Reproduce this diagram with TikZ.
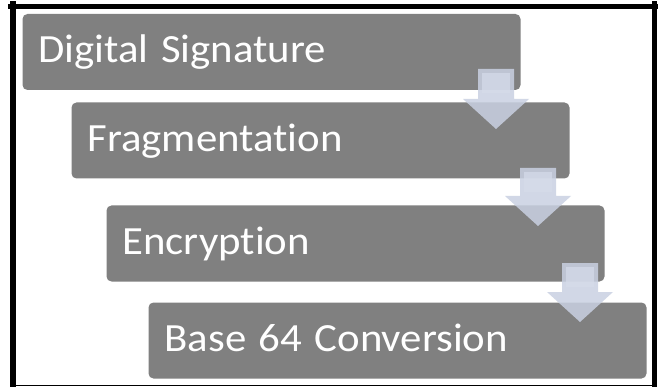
\documentclass[tikz,border=0pt]{standalone}
\usepackage{fontspec}
\setmainfont{Carlito}[FakeStretch=1.07, Ligatures=NoCommon]
\newcommand\tightspaces{\spaceskip=12.5pt\relax}
\begin{document}
\begin{tikzpicture}[x=1pt,y=-1pt,
  stepbox/.style={rectangle, rounded corners=5pt, fill=boxgray, draw=none,
    minimum width=498pt, minimum height=76pt, text width=466pt, inner xsep=16pt,
    align=left, text=white, font=\fontsize{40}{40}\selectfont,
    execute at begin node={\tightspaces},
    text height=28pt, text depth=6pt},
  blockarrow/.style={fill=arrowblue, fill opacity=0.85, draw=none},
  arrowcore/.style={fill=arrowlight, fill opacity=0.7, draw=none},
  frameline/.style={draw=black, line cap=rect}]
\definecolor{boxgray}{RGB}{128,128,128}
\definecolor{arrowblue}{RGB}{201,209,226}
\definecolor{arrowlight}{RGB}{214,220,234}
\useasboundingbox (0,0) rectangle (658,387);
\fill[white] (0,0) rectangle (658,387);

% process steps
\node[stepbox] (sig)  at (271.5,52)  {Digital Signature};
\node[stepbox] (frag) at (320.5,140.5) {Fragmentation};
\node[stepbox] (enc)  at (355.5,243.5) {Encryption};
\node[stepbox] (b64)  at (397.5,340.5) {Base 64 Conversion};

% arrow tips between steps
\coordinate (t1) at (496,129);
\coordinate (t2) at (538,226);
\coordinate (t3) at (580,322);

% block arrows
\foreach \t/\s in {t1/30, t2/28, t3/29}{
  \fill[blockarrow] (\t) -- ++(-33,-30) -- ++(15,0) -- ++(0,-\s) -- ++(36,0)
    -- ++(0,\s) -- ++(15,0) -- cycle;
  \fill[arrowcore] (\t) ++(-14,-30) ++(0,-\s) ++(0,4) rectangle ++(28,20);
}

% frame
\draw[frameline, line width=5.5pt] (12.8,4) -- (12.8,387);
\draw[frameline, line width=5pt] (10,6.5) -- (656.5,6.5);
\draw[frameline, line width=5pt] (654,4) -- (654,385);
\draw[black, line width=1.5pt] (10,385.3) -- (656.5,385.3);
\end{tikzpicture}
\end{document}
